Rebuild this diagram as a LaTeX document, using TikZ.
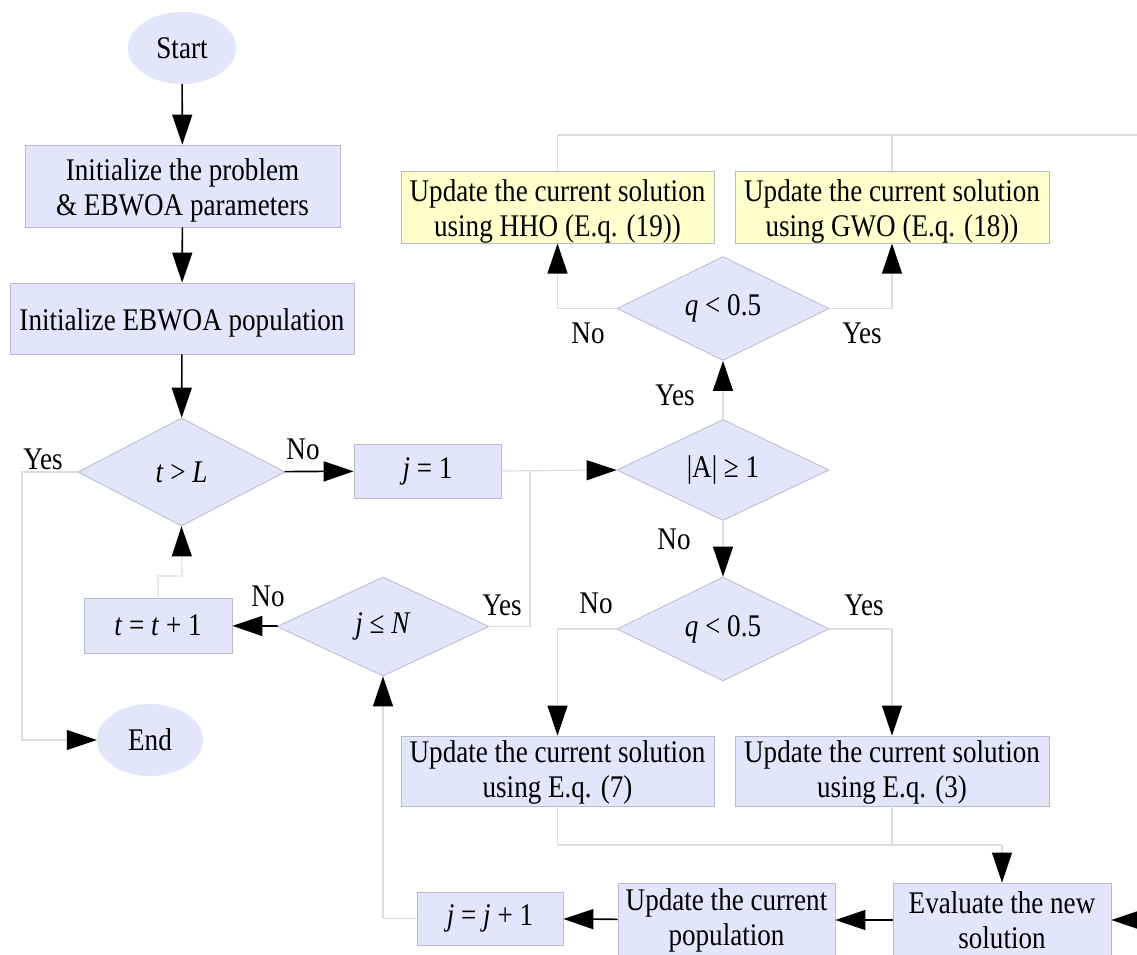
\documentclass[tikz,border=0pt]{standalone}
\usepackage{fontspec}
\setmainfont[FakeStretch=0.86]{Liberation Serif}
\usetikzlibrary{shapes.geometric,arrows.meta}
\definecolor{boxc}{RGB}{228,228,250}
\definecolor{bordc}{RGB}{185,185,205}
\definecolor{yelc}{RGB}{255,255,204}
\definecolor{linec}{RGB}{222,222,222}
\newcommand\fsz{\fontsize{31.5}{35}\selectfont}
\tikzset{
  every node/.style={font=\fsz},
  proc/.style={draw=bordc, fill=boxc, line width=0.8pt, inner sep=0pt, align=center},
  yproc/.style={proc, fill=yelc},
  term/.style={ellipse, fill=boxc, inner sep=0pt},
  dec/.style={diamond, draw=bordc, fill=boxc, line width=0.8pt, inner sep=0pt},
  lbl/.style={inner sep=0pt},
  blk/.style={draw=black, line width=1.6pt, -{Triangle[length=30pt,width=20pt]}},
  gry/.style={draw=linec, line width=1.2pt, -{Triangle[length=30pt,width=20pt,black]}},
  gryl/.style={draw=linec, line width=1.2pt}
}
\begin{document}
\begin{tikzpicture}[x=1pt,y=-1pt]
\clip (0,0) rectangle (1137,955);
\fill[white] (0,0) rectangle (1137,955);
% nodes
\node[term, minimum width=108pt, minimum height=72pt] (start) at (182,48) {Start};
\node[proc, minimum width=315pt, minimum height=82pt, text height=66.5pt] (init) at (182.5,186) {Initialize the problem\\ \& EBWOA parameters};
\node[proc, minimum width=344pt, minimum height=71pt, text height=31pt] (pop) at (182,318.5) {Initialize EBWOA population};
\node[dec, minimum width=207pt, minimum height=108pt] (tl) at (181.5,472) {\textit{t} > \textit{L}};
\node[proc, minimum width=147pt, minimum height=54pt] (j1) at (427.5,471) {\textit{j} = 1};
\node[dec, minimum width=212pt, minimum height=99pt] (jn) at (383,626.5) {\textit{j} ≤ \textit{N}};
\node[proc, minimum width=148pt, minimum height=55pt] (tt) at (158,625.5) {\textit{t} = \textit{t} + 1};
\node[term, minimum width=106pt, minimum height=72pt] (end) at (150,740) {End};
\node[dec, minimum width=212pt, minimum height=100pt] (a1) at (723,470) {|A| ≥ 1};
\node[dec, minimum width=212pt, minimum height=99pt] (q1) at (723,308.5) {\textit{q} < 0.5};
\node[yproc, minimum width=313pt, minimum height=71pt, text height=64.5pt] (hho) at (557.5,207.5) {Update the current solution\\ using HHO (E.q. (19))};
\node[yproc, minimum width=314pt, minimum height=71pt, text height=64.5pt] (gwo) at (892,207.5) {Update the current solution\\ using GWO (E.q. (18))};
\node[dec, minimum width=212pt, minimum height=102pt] (q2) at (723,629) {\textit{q} < 0.5};
\node[proc, minimum width=313pt, minimum height=70pt, text height=60.5pt] (e7) at (557.5,771) {Update the current solution\\ using E.q. (7)};
\node[proc, minimum width=314pt, minimum height=70pt, text height=60.5pt] (e3) at (892,771) {Update the current solution\\ using E.q. (3)};
\node[proc, minimum width=218pt, minimum height=74pt] (ev) at (1002,920) {Evaluate the new\\ solution};
\node[proc, minimum width=217pt, minimum height=74pt] (up) at (726.5,920) {Update the current\\ population};
\node[proc, minimum width=146pt, minimum height=53pt] (jj) at (490,918.5) {\textit{j} = \textit{j} + 1};
\coordinate (topr) at (1137,135);
\coordinate (evr) at (1137,920);
% labels
\node[lbl] (l1) at (43,459) {Yes};
\node[lbl] (l2) at (303,449) {No};
\node[lbl] (l3) at (268,596) {No};
\node[lbl] (l4) at (502,605) {Yes};
\node[lbl] (l5) at (675,395) {Yes};
\node[lbl] (l6) at (588,333) {No};
\node[lbl] (l7) at (862,333) {Yes};
\node[lbl] (l8) at (674,539) {No};
\node[lbl] (l9) at (596,603) {No};
\node[lbl] (l10) at (864,605) {Yes};
% connectors
\draw[blk] (start) -- (init);
\draw[blk] (init) -- (pop);
\draw[blk] (pop) -- (tl);
\draw[blk] (tl) -- (j1);
\draw[blk] (jn) -- (tt);
\draw[blk] (ev) -- (up);
\draw[blk] (up) -- (jj);
\draw[gry] (tt.north) |- (182,576) -- (tl.south);
\draw[gry] (tl.west) -- (22,472) |- (end.west);
\draw[gry] (j1.east) -- (a1.west);
\draw[gryl] (jn.east) -- (530,626.5) -- (530,471);
\draw[gry] (a1.north) -- (q1.south);
\draw[gry] (q1.west) -| (hho.south);
\draw[gry] (q1.east) -| (gwo.south);
\draw[gryl] (hho.north) |- (topr);
\draw[gryl] (gwo.north) -- (892,135);
\draw[gry] (a1.south) -- (q2.north);
\draw[gry] (q2.west) -| (e7.north);
\draw[gry] (q2.east) -| (e3.north);
\draw[gryl] (e7.south) |- (1002,845);
\draw[gryl] (e3.south) -- (892,845);
\draw[gry] (1002,845) -- (ev.north);
\draw[gry] (evr) -- (ev.east);
\draw[gry] (jj.west) -- (383,918.5) -- (jn.south);
\end{tikzpicture}
\end{document}
